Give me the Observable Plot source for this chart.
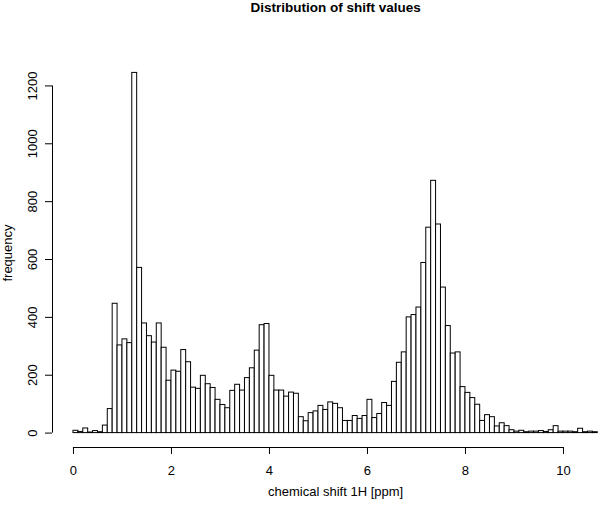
<!DOCTYPE html>
<html>
<head>
<meta charset="utf-8">
<script src="https://cdn.jsdelivr.net/npm/d3@7"></script>
<script src="https://cdn.jsdelivr.net/npm/@observablehq/plot@0.6"></script>
<style>
  html, body { margin: 0; padding: 0; background: #fff; }
  #chart svg { display: block; }
</style>
</head>
<body>
<div id="chart"></div>
<script>
// Histogram of 1H chemical shifts, bin width 0.1 ppm starting at 0 ppm
const binStart = 0;
const binWidth = 0.1;
const counts = [
  8, 4, 16, 2, 7, 3, 26, 83, 447, 303,
  324, 311, 1245, 571, 379, 335, 313, 379, 295, 181,
  216, 212, 287, 245, 157, 153, 198, 169, 156, 115,
  97, 86, 146, 167, 147, 190, 224, 285, 373, 377,
  198, 147, 147, 126, 140, 136, 55, 41, 69, 75,
  94, 80, 106, 101, 86, 42, 42, 59, 49, 59,
  115, 52, 66, 104, 94, 177, 243, 279, 400, 408,
  434, 588, 710, 872, 721, 503, 370, 275, 279, 159,
  139, 121, 98, 42, 62, 55, 23, 34, 24, 10,
  5, 8, 3, 5, 5, 7, 4, 10, 24, 5,
  5, 5, 3, 15, 3, 5, 3
];
const xTicks = [0, 2, 4, 6, 8, 10];
const yTicks = [0, 200, 400, 600, 800, 1000, 1200];
const title = "Distribution of shift values";
const xLabel = "chemical shift 1H [ppm]";
const yLabel = "frequency";

const bins = counts.map((c, i) => ({
  x1: binStart + i * binWidth,
  x2: binStart + (i + 1) * binWidth,
  count: c
}));

// R-style 4% axis extension
const dataMax = binStart + counts.length * binWidth;
const xSpan = dataMax - binStart;
const usrLeft = binStart - 0.04 * xSpan;
const usrRight = dataMax + 0.04 * xSpan;
const xMid = (usrLeft + usrRight) / 2;
const pxPerUnit = 49;
const width = 600, marginLeft = 52;
const xVisibleRight = usrLeft + (width - marginLeft) / pxPerUnit;
const yMax = d3.max(counts);
const yLo = -0.04 * yMax, yHi = 1.04 * yMax;

const font = "Liberation Sans, Arial, Helvetica, sans-serif";

const chart = Plot.plot({
  width,
  height: 505,
  marginLeft,
  marginRight: 0,
  marginTop: 58,
  marginBottom: 58,
  style: { fontFamily: font, fontSize: "13px", color: "#000", background: "#fff" },
  x: { domain: [usrLeft, xVisibleRight], axis: null },
  y: { domain: [yLo, yHi], axis: null },
  marks: [
    Plot.rect(bins, { x1: "x1", x2: "x2", y1: 0, y2: "count", fill: "white", stroke: "black", strokeWidth: 1, clip: true }),
    // x axis line spanning the ticks
    Plot.ruleY([yLo], { x1: xTicks[0], x2: xTicks[xTicks.length - 1], stroke: "black", strokeWidth: 1 }),
    Plot.axisX({ ticks: xTicks, tickSize: 7, tickPadding: 11, label: null, fontSize: 13, stroke: "black", strokeOpacity: 1 }),
    // y axis line spanning the ticks
    Plot.ruleX([usrLeft], { y1: yTicks[0], y2: yTicks[yTicks.length - 1], stroke: "black", strokeWidth: 1 }),
    Plot.axisY({ ticks: yTicks, tickSize: 7, tickFormat: () => "", label: null, stroke: "black", strokeOpacity: 1 }),
    Plot.text(yTicks, { x: usrLeft, y: d => d, text: d => String(d), rotate: -90, dx: -20, fontSize: 13, fill: "black" }),
    Plot.text([title], { x: xMid, frameAnchor: "top", dy: -56, text: d => d, fontSize: 13.5, fontWeight: "bold", fill: "black" }),
    Plot.text([xLabel], { x: xMid, frameAnchor: "bottom", dy: 48, text: d => d, fontSize: 13, fill: "black" }),
    Plot.text([yLabel], { x: usrLeft, frameAnchor: "middle", dx: -45, text: d => d, rotate: -90, fontSize: 13, fill: "black" })
  ]
});
document.getElementById("chart").appendChild(chart);
</script>
</body>
</html>
